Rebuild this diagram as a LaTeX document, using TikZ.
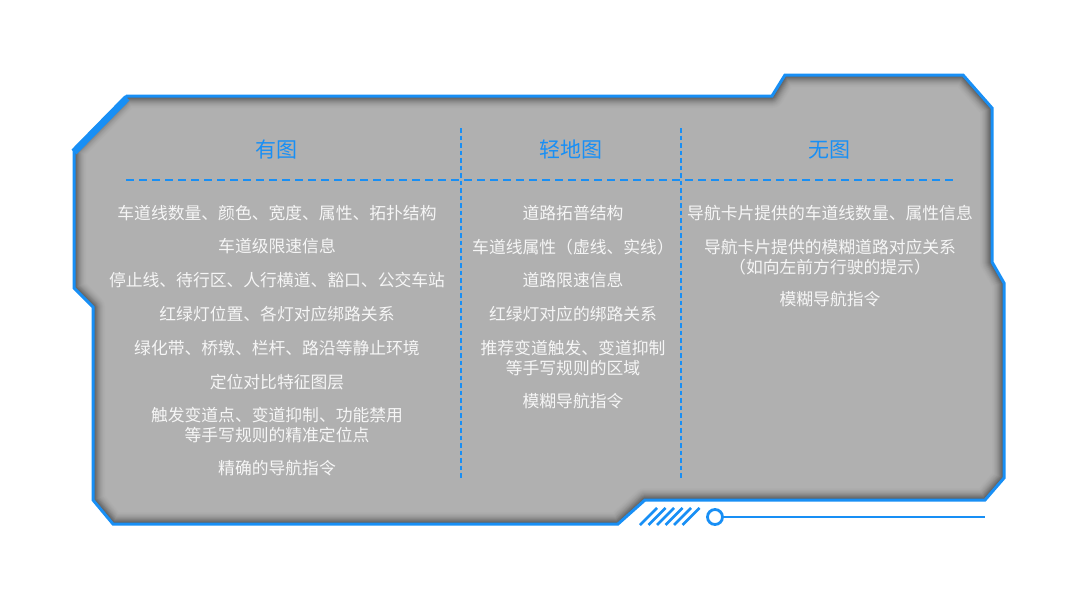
\documentclass[tikz,border=0pt]{standalone}
\usepackage{fontspec}
\setmainfont{Noto Sans CJK SC}
\definecolor{frameblue}{RGB}{24,143,245}
\definecolor{panelgray}{RGB}{176,176,176}
\definecolor{textwhite}{RGB}{246,246,246}
\begin{document}
\begin{tikzpicture}[x=1pt,y=-1pt,
  title/.style={text=frameblue,font=\fontsize{21}{24}\selectfont},
  item/.style={text=textwhite,font=\fontsize{16.8}{20}\selectfont,align=center,inner sep=0pt},
  hdash/.style={frameblue,line width=1.8pt,dash pattern=on 8pt off 5pt},
  vdash/.style={frameblue,line width=1.6pt,dash pattern=on 4.5pt off 3pt},
  rim/.style={frameblue,line width=3pt,line join=miter}]
  \useasboundingbox (0,0) rectangle (1080,608);
  \def\panel{(127,96) -- (772,96) -- (785,75) -- (963,75) -- (992,108) -- (992,262)
    -- (1004,283) -- (1004,478) -- (985,500) -- (645,500) -- (618,524) -- (113,524)
    -- (93,500) -- (93,307) -- (74,288) -- (74,150) -- cycle}
  \fill[panelgray] \panel;
  \begin{scope}
    \clip \panel;
    \foreach \w in {30,28,...,2} {
      \pgfmathtruncatemacro{\c}{31+(30-\w)*(30-\w)/22}
      \draw[black!\c,line width=\w pt,line join=round] \panel;
    }
  \end{scope}
  \draw[rim] \panel;
  \draw[frameblue,line width=7pt] (74,152) -- (127,98);
  \foreach \i in {0,...,5} {
    \draw[frameblue,line width=2.8pt] (640+8.5*\i,525) -- (657+8.5*\i,508);
  }
  \node[circle,draw=frameblue,line width=2.8pt,minimum size=15pt,inner sep=0pt] (knob) at (715,517) {};
  \coordinate (lineend) at (985,517);
  \draw[frameblue,line width=2.5pt] (knob.east) -- (lineend);
  \coordinate (hl) at (126,180);
  \coordinate (hr) at (957,180);
  \draw[hdash] (hl) -- (hr);
  \coordinate (va) at (461,128);
  \coordinate (vb) at (461,480);
  \coordinate (vc) at (681,128);
  \coordinate (vd) at (681,480);
  \draw[vdash] (va) -- (vb);
  \draw[vdash] (vc) -- (vd);
  \node[title] (youtu) at (276,150) {有图};
  \node[title] (qingtu) at (571,150) {轻地图};
  \node[title] (wutu) at (829,150) {无图};
  \node[item] (a1) at (277,213) {车道线数量、颜色、宽度、属性、拓扑结构};
  \node[item] (a2) at (277,246) {车道级限速信息};
  \node[item] (a3) at (277,280) {停止线、待行区、人行横道、豁口、公交车站};
  \node[item] (a4) at (277,314) {红绿灯位置、各灯对应绑路关系};
  \node[item] (a5) at (277,348) {绿化带、桥墩、栏杆、路沿等静止环境};
  \node[item] (a6) at (277,382) {定位对比特征图层};
  \node[item] (a7) at (277,425) {触发变道点、变道抑制、功能禁用\\等手写规则的精准定位点};
  \node[item] (a8) at (277,468) {精确的导航指令};
  \node[item] (b1) at (573,213) {道路拓普结构};
  \node[item] (b2) at (573,247) {车道线属性（虚线、实线）};
  \node[item] (b3) at (573,280) {道路限速信息};
  \node[item] (b4) at (573,314) {红绿灯对应的绑路关系};
  \node[item] (b5) at (573,358) {推荐变道触发、变道抑制\\等手写规则的区域};
  \node[item] (b6) at (573,401) {模糊导航指令};
  \node[item] (c1) at (830,213) {导航卡片提供的车道线数量、属性信息};
  \node[item] (c2) at (830,257) {导航卡片提供的模糊道路对应关系\\（如向左前方行驶的提示）};
  \node[item] (c3) at (830,299) {模糊导航指令};
\end{tikzpicture}
\end{document}
